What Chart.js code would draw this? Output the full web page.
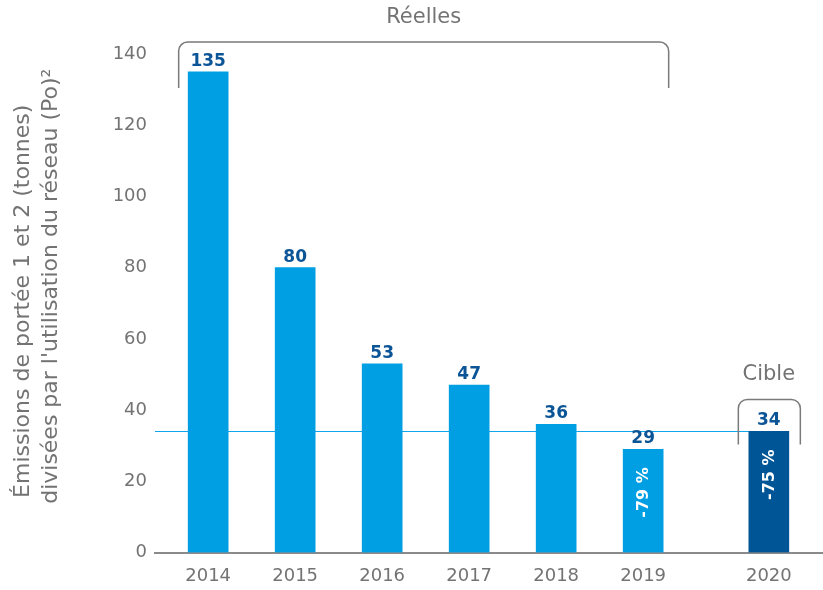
<!DOCTYPE html>
<html><head><meta charset="utf-8">
<script src="https://cdn.jsdelivr.net/npm/chart.js@4/dist/chart.umd.min.js"></script>
<style>html,body{margin:0;padding:0;background:#fff}#wrap{width:823px;height:590px}</style>
</head><body><div id="wrap"><canvas id="c" width="823" height="590"></canvas></div>
<script>
// ---- data ----
const years = ['2014','2015','2016','2017','2018','2019','2020'];
const values = [135, 80, 53, 47, 36, 29, 34];
const changeLabels = ['', '', '', '', '', '-79 %', '-75 %'];
const isTarget = [false, false, false, false, false, false, true];
const targetValue = 34;
const yTickValues = [0, 20, 40, 60, 80, 100, 120, 140];
const actualGroupLabel = 'Réelles';
const targetGroupLabel = 'Cible';
const yTitle = ['Émissions de portée 1 et 2 (tonnes)', "divisées par l'utilisation du réseau (Po)²"];

// ---- layout (category slots so the target year sits a bit apart) ----
const SLOTS_PER_YEAR = 9, GAP_SLOTS = 13, LEAD = 5, TRAIL = 5;
const slotOf = years.map((y, i) => isTarget[i] ? LEAD + (i - 1) * SLOTS_PER_YEAR + GAP_SLOTS : LEAD + i * SLOTS_PER_YEAR);
const N = slotOf[slotOf.length - 1] + 1 + TRAIL;
const labels = Array(N).fill('');
const data = Array(N).fill(null);
const colors = Array(N).fill('#009fe3');
years.forEach((y, i) => { labels[slotOf[i]] = y; data[slotOf[i]] = values[i]; colors[slotOf[i]] = isTarget[i] ? '#005596' : '#009fe3'; });

const FONT = '"DejaVu Sans", sans-serif';
const BOLD_FONT = '"DejaVu Sans", sans-serif';
const GRAY = '#737373';

const annotations = {
  id: 'annotations',
  beforeDatasetsDraw(chart) {
    const ctx = chart.ctx, y = chart.scales.y, ca = chart.chartArea;
    const meta = chart.getDatasetMeta(0);
    const tIdx = isTarget.indexOf(true);
    const tBar = meta.data[slotOf[tIdx]];
    const py = Math.round(y.getPixelForValue(targetValue));
    ctx.save();
    ctx.fillStyle = '#10a5ea';
    ctx.fillRect(ca.left, py, (tBar.x - tBar.width / 2) - ca.left, 1);
    // y-axis title
    ctx.fillStyle = GRAY; ctx.font = '22px ' + FONT;
    ctx.textAlign = 'center'; ctx.textBaseline = 'middle';
    const mid = (ca.top + ca.bottom) / 2;
    const ys = [mid - 2, mid - 17];
    const xs = [23, 51];
    yTitle.forEach((t, k) => {
      ctx.save(); ctx.translate(xs[k], ys[k]); ctx.rotate(-Math.PI / 2); ctx.fillText(t, 0, 0); ctx.restore();
    });
    ctx.restore();
  },
  afterDatasetsDraw(chart) {
    const ctx = chart.ctx, ca = chart.chartArea;
    const meta = chart.getDatasetMeta(0);
    ctx.save();
    years.forEach((yr, i) => {
      const b = meta.data[slotOf[i]];
      ctx.font = 'bold 17px ' + BOLD_FONT; ctx.fillStyle = '#0b5597';
      ctx.textAlign = 'center'; ctx.textBaseline = 'alphabetic';
      ctx.fillText(String(values[i]), b.x, b.y - 6);
      if (changeLabels[i]) {
        ctx.save();
        ctx.translate(b.x + 1, b.y + 18);
        ctx.rotate(-Math.PI / 2);
        ctx.font = 'bold 16px ' + BOLD_FONT; ctx.fillStyle = '#ffffff';
        ctx.textAlign = 'right'; ctx.textBaseline = 'middle';
        ctx.fillText(changeLabels[i], 0, 0);
        ctx.restore();
      }
    });
    const bracket = (l, r, t, btm, rad) => {
      ctx.beginPath();
      ctx.moveTo(l, btm); ctx.lineTo(l, t + rad); ctx.arcTo(l, t, l + rad, t, rad);
      ctx.lineTo(r - rad, t); ctx.arcTo(r, t, r, t + rad, rad); ctx.lineTo(r, btm);
      ctx.stroke();
    };
    ctx.strokeStyle = '#7a7a7a'; ctx.lineWidth = 1.5;
    const first = meta.data[slotOf[0]], last = meta.data[slotOf[5]];
    const l1 = first.x - 29.5, r1 = last.x + 25.5, t1 = ca.top - 12;
    bracket(l1, r1, t1, t1 + 46, 9);
    const tb = meta.data[slotOf[6]];
    const l2 = tb.x - 30.5, r2 = tb.x + 31.5, t2 = tb.y - 32;
    bracket(l2, r2, t2, t2 + 45, 9);
    ctx.font = '21px ' + FONT; ctx.fillStyle = GRAY; ctx.textAlign = 'center'; ctx.textBaseline = 'middle';
    ctx.fillText(actualGroupLabel, (l1 + r1) / 2, 18);
    ctx.fillText(targetGroupLabel, tb.x, tb.y - 57);
    ctx.restore();
  }
};

new Chart(document.getElementById('c'), {
  type: 'bar',
  data: { labels, datasets: [{ data, backgroundColor: colors, barThickness: 40 }] },
  options: {
    responsive: false, animation: false, devicePixelRatio: 1,
    layout: { padding: { top: 54, right: 1, left: 0, bottom: 0 } },
    plugins: { legend: { display: false }, tooltip: { enabled: false } },
    scales: {
      x: {
        offset: true,
        grid: { display: false, drawTicks: true, tickLength: 8 },
        border: { display: true, color: '#8a8a8a', width: 2 },
        ticks: { autoSkip: false, maxRotation: 0, minRotation: 0, color: GRAY, font: { family: FONT, size: 18 }, padding: 5 },
        afterFit(s) { s.height = 37.5; }
      },
      y: {
        min: 0, max: 140,
        afterBuildTicks(s) { s.ticks = yTickValues.map(v => ({ value: v })); },
        grid: { display: false, drawTicks: false },
        border: { display: false },
        ticks: { color: GRAY, font: { family: FONT, size: 18 }, padding: 8 },
        title: { display: false, text: yTitle },
        afterFit(s) { s.width = 155; }
      }
    }
  },
  plugins: [annotations]
});
</script></body></html>
